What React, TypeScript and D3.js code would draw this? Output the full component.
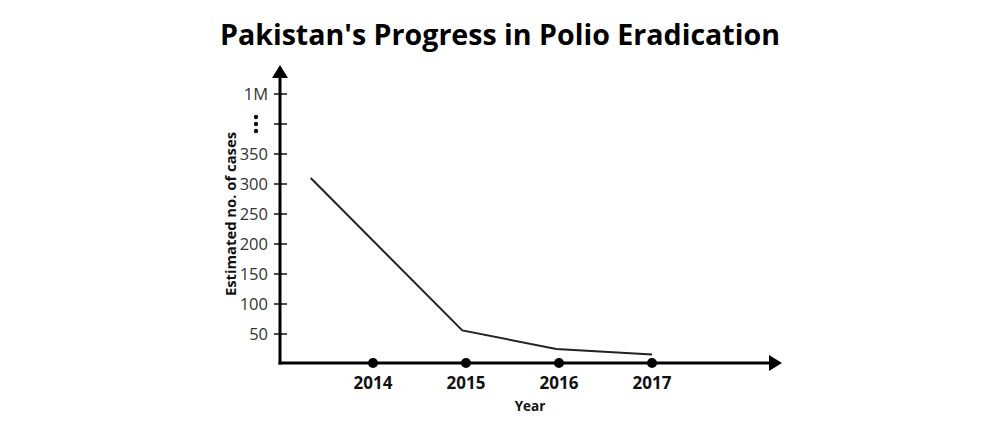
import React from "react";
import * as d3 from "d3";

const years = [2014, 2015, 2016, 2017];
const yearLabels = ["2014", "2015", "2016", "2017"];
const lineYears = [2013.33, 2014.96, 2015.97, 2017.0];
const lineCases = [310, 56, 25, 16];
const yTicks = [50, 100, 150, 200, 250, 300, 350, 400, 450];
const yTickLabels = ["50", "100", "150", "200", "250", "300", "350", "", "1M"];
const breakTick = 400;
const title = "Pakistan's Progress in Polio Eradication";
const xTitle = "Year";
const yTitle = "Estimated no. of cases";

const W = 1000;
const H = 425;
const FONT = "'Open Sans', 'DejaVu Sans', sans-serif";

export default function App() {
  const x = d3.scaleLinear().domain([2013, 2017]).range([280, 652]);
  const y = d3.scaleLinear().domain([0, 450]).range([364, 94]);
  const axisY = 363;
  const axisX = x(2013);
  const line = d3
    .line<number>()
    .x((_, i) => x(lineYears[i]))
    .y((d) => y(d));
  const xEnd = 782;
  const yTop = 65;
  return (
    <svg
      width={W}
      height={H}
      style={{ position: "absolute", left: 0, top: 0, background: "#fff" }}
    >
      <text
        x={500}
        y={45}
        textAnchor="middle"
        fontFamily={FONT}
        fontWeight={700}
        fontSize={28.6}
        fill="#000"
      >
        {title}
      </text>
      {/* y ticks */}
      {yTicks.map((t, i) => (
        <g key={t}>
          <line x1={274} x2={287} y1={y(t)} y2={y(t)} stroke="#111" strokeWidth={1.5} />
          {yTickLabels[i] && (
            <text
              x={268}
              y={y(t)}
              dy="0.36em"
              textAnchor="end"
              fontFamily={FONT}
              fontSize={16.5}
              fill="#333"
            >
              {yTickLabels[i]}
            </text>
          )}
        </g>
      ))}
      {[-7, 0, 7].map((o) => (
        <circle key={o} cx={256} cy={y(breakTick) + o} r={2.2} fill="#111" />
      ))}
      {/* data line */}
      <path d={line(lineCases) || ""} fill="none" stroke="#222" strokeWidth={2} />
      {/* axes */}
      <line x1={axisX} x2={axisX} y1={axisY + 1.5} y2={yTop + 10} stroke="#000" strokeWidth={3} />
      <path d={`M${axisX},${yTop} L${axisX - 8},${yTop + 13} L${axisX + 8},${yTop + 13} Z`} fill="#000" />
      <line x1={axisX - 1.5} x2={xEnd - 10} y1={axisY} y2={axisY} stroke="#000" strokeWidth={3} />
      <path d={`M${xEnd},${axisY} L${xEnd - 13},${axisY - 8} L${xEnd - 13},${axisY + 8} Z`} fill="#000" />
      {years.map((yr, i) => (
        <g key={yr}>
          <circle cx={x(yr)} cy={axisY} r={5} fill="#000" />
          <text
            x={x(yr)}
            y={389}
            textAnchor="middle"
            fontFamily={FONT}
            fontWeight={700}
            fontSize={17}
            fill="#111"
          >
            {yearLabels[i]}
          </text>
        </g>
      ))}
      <text
        x={530}
        y={411}
        textAnchor="middle"
        fontFamily={FONT}
        fontWeight={700}
        fontSize={13.5}
        fill="#111"
      >
        {xTitle}
      </text>
      <text
        transform={`translate(235.5,214) rotate(-90)`}
        textAnchor="middle"
        fontFamily={FONT}
        fontWeight={700}
        fontSize={14.8}
        fill="#111"
      >
        {yTitle}
      </text>
    </svg>
  );
}
